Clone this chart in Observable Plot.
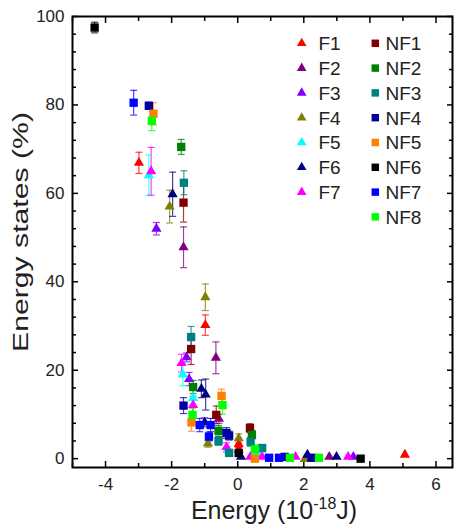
<!DOCTYPE html>
<html>
<head>
<meta charset="utf-8">
<script src="https://cdn.jsdelivr.net/npm/d3@7"></script>
<script src="https://cdn.jsdelivr.net/npm/@observablehq/plot@0.6"></script>
<style>
  html, body { margin: 0; padding: 0; background: #fff; }
  #chart svg { display: block; }
</style>
</head>
<body>
<div id="chart"></div>
<script>
// ---- data: [energy (1e-18 J), energy states (%), error (%)] ----
const F1 = [[-2.99, 66.9, 2.4], [-0.98, 30.2, 2.3], [0.03, 3.3, 0.8], [0.03, 2.0, 0.5], [5.06, 0.9, 0]];
const F2 = [[-1.64, 47.8, 4.6], [-0.66, 22.8, 3.6], [-0.57, 9.0, 1.0], [2.77, 0.4, 0]];
const F3 = [[-2.46, 52.0, 1.4], [-1.55, 22.9, 1.0], [-1.47, 18.0, 1.5], [3.5, 0.4, 0]];
const F4 = [[-2.06, 57.0, 3.7], [-0.98, 36.5, 3.0], [-0.9, 3.4, 0.8], [0.03, 4.6, 1.0], [2.03, -0.1, 0]];
const F5 = [[-2.69, 64.1, 4.6], [-1.66, 19.0, 2.5], [-1.35, 13.7, 2.0], [-0.3, 2.0, 0.8], [0.55, 0.8, 0], [0.62, 1.1, 0.5]];
const F6 = [[-1.97, 59.8, 5.0], [-1.1, 15.8, 2.0], [-0.97, 14.5, 3.5], [-1.0, 8.2, 1.0], [0.1, 0.4, 0], [2.11, 0.9, 0], [2.99, 0.4, 0]];
const F7 = [[-2.62, 65.0, 5.4], [-1.70, 21.6, 2.0], [-1.35, 12.1, 2.0], [-0.34, 2.6, 1.0], [0.38, 0.4, 0], [0.74, 0.4, 0], [1.75, 0.4, 0], [3.34, 0.4, 0]];
const NF1 = [[-1.64, 57.9, 4.4], [-1.41, 24.8, 3.5], [-0.65, 9.9, 2.0], [0.37, 6.9, 1.0]];
const NF2 = [[-1.71, 70.5, 1.7], [-1.35, 16.2, 1.5], [-0.58, 6.3, 1.2], [0.43, 5.4, 1.0]];
const NF3 = [[-1.63, 62.4, 2.7], [-1.41, 27.5, 2.4], [-0.58, 4.0, 1.0], [-0.26, 1.3, 0.5], [0.39, 3.8, 1.0], [0.74, 2.4, 0.8]];
const NF4 = [[-2.69, 79.8, 0.8], [-1.64, 12.0, 1.8], [-0.34, 5.8, 1.2], [-0.26, 5.2, 1.0], [1.42, 0.4, 0], [2.23, 0.2, 0]];
const NF5 = [[-2.55, 78.0, 2.5], [-1.40, 8.2, 2.0], [-0.49, 14.2, 1.5], [0.52, 0.0, 0]];
const NF6 = [[-4.33, 97.5, 1.2], [0.03, 1.3, 0.5], [3.72, 0.0, 0]];
const NF7 = [[-3.15, 80.5, 2.8], [-1.15, 7.6, 1.5], [-0.82, 7.6, 1.5], [-0.87, 5.0, 1.0], [0.95, 0.2, 0], [1.25, 0.2, 0]];
const NF8 = [[-2.6, 76.4, 2.2], [-1.37, 9.9, 1.5], [-0.46, 12.1, 2.0], [0.52, 2.1, 1.0], [1.58, 0.2, 0], [2.46, 0.2, 0]];

const seriesNames  = ["F1", "F2", "F3", "F4", "F5", "F6", "F7", "NF1", "NF2", "NF3", "NF4", "NF5", "NF6", "NF7", "NF8"];
const seriesColors = ["#ff0000", "#800080", "#8000ff", "#808000", "#00ffff", "#000080", "#ff00ff",
                      "#800000", "#008000", "#008080", "#0000a0", "#ff8000", "#000000", "#0000ff", "#00ff00"];
const seriesData   = [F1, F2, F3, F4, F5, F6, F7, NF1, NF2, NF3, NF4, NF5, NF6, NF7, NF8];

const xTicksMajor = [-4, -2, 0, 2, 4, 6];
const xTicksMinor = [-5, -3, -1, 1, 3, 5];
const yTicksMajor = [0, 20, 40, 60, 80, 100];
const yTicksMinor = [4, 8, 12, 16, 24, 28, 32, 36, 44, 48, 52, 56, 64, 68, 72, 76, 84, 88, 92, 96];

const xTitle = ["Energy (10", "-18", "J)"];
const yTitle = "Energy states (%)";

// ---- build rows ----
const rows = seriesData.flatMap((arr, i) => arr.map(([x, y, e]) => ({x, y, e, s: seriesNames[i]})));
const triRows = rows.filter(d => d.s.startsWith("F"));
const sqRows = rows.filter(d => d.s.startsWith("NF"));
const errRows = rows.filter(d => d.e > 0);

const font = "'Liberation Sans', Arial, Helvetica, sans-serif";
const capSymbol = {draw(ctx, size) { const w = Math.sqrt(size) / 2; ctx.moveTo(-w, 0); ctx.lineTo(w, 0); }};
const fmt = d => String(d);

const W = 455, H = 526, mL = 72, mR = 3, mT = 16, mB = 59;

const chart = Plot.plot({
  width: W, height: H,
  marginLeft: mL, marginRight: mR, marginTop: mT, marginBottom: mB,
  style: {fontFamily: font, background: "#fff", color: "#000"},
  x: {domain: [-5, 6.5], label: null},
  y: {domain: [-2, 100], label: null},
  color: {domain: seriesNames, range: seriesColors},
  marks: [
    // tick labels
    Plot.axisX(xTicksMajor, {anchor: "bottom", tickSize: 0, tickPadding: 10, tickFormat: fmt, fontSize: 17, fill: "#222", label: null}),
    Plot.axisY(yTicksMajor, {anchor: "left", tickSize: 0, tickPadding: 8, tickFormat: fmt, fontSize: 17, fill: "#222", label: null}),
    // inward ticks on all four sides
    Plot.axisX(xTicksMajor, {anchor: "bottom", tickSize: 6, dy: -6, fill: "none", stroke: "#000", strokeWidth: 1.5, label: null}),
    Plot.axisX(xTicksMinor, {anchor: "bottom", tickSize: 4, dy: -4, fill: "none", stroke: "#000", strokeWidth: 1.5, label: null}),
    Plot.axisX(xTicksMajor, {anchor: "top", tickSize: 6, dy: 6, fill: "none", stroke: "#000", strokeWidth: 1.5, label: null}),
    Plot.axisX(xTicksMinor, {anchor: "top", tickSize: 4, dy: 4, fill: "none", stroke: "#000", strokeWidth: 1.5, label: null}),
    Plot.axisY(yTicksMajor, {anchor: "left", tickSize: 6, dx: 6, fill: "none", stroke: "#000", strokeWidth: 1.5, label: null}),
    Plot.axisY(yTicksMinor, {anchor: "left", tickSize: 4, dx: 4, fill: "none", stroke: "#000", strokeWidth: 1.5, label: null}),
    Plot.axisY(yTicksMajor, {anchor: "right", tickSize: 6, dx: -6, fill: "none", stroke: "#000", strokeWidth: 1.5, label: null}),
    Plot.axisY(yTicksMinor, {anchor: "right", tickSize: 4, dx: -4, fill: "none", stroke: "#000", strokeWidth: 1.5, label: null}),
    // error bars
    Plot.ruleX(errRows, {x: "x", y1: d => d.y - d.e, y2: d => d.y + d.e, stroke: "s", strokeWidth: 1.2, strokeOpacity: 0.75}),
    Plot.dot(errRows, {x: "x", y: d => d.y + d.e, stroke: "s", fill: "none", symbol: capSymbol, r: 3.95, strokeWidth: 1.2, strokeOpacity: 0.75}),
    Plot.dot(errRows, {x: "x", y: d => d.y - d.e, stroke: "s", fill: "none", symbol: capSymbol, r: 3.95, strokeWidth: 1.2, strokeOpacity: 0.75}),
    // markers
    Plot.dot(triRows, {x: "x", y: "y", fill: "s", symbol: "triangle", r: 3.8, stroke: "none"}),
    Plot.dot(sqRows, {x: "x", y: "y", fill: "s", symbol: "square", r: 4.7, stroke: "none"}),
    Plot.frame({stroke: "#000", strokeWidth: 2})
  ]
});

document.getElementById("chart").appendChild(chart);

// ---- titles and legend ----
const svg = d3.select(chart);

const xt = svg.append("text")
  .attr("x", 274).attr("y", 519)
  .attr("text-anchor", "middle")
  .attr("font-family", font).attr("font-size", 25).attr("fill", "#222");
xt.append("tspan").text(xTitle[0]);
xt.append("tspan").attr("font-size", 16).attr("dy", -10).text(xTitle[1]);
xt.append("tspan").attr("dy", 10).text(xTitle[2]);

svg.append("text")
  .attr("transform", "translate(28,232) rotate(-90)")
  .attr("text-anchor", "middle")
  .attr("font-family", font).attr("font-size", 22).attr("fill", "#222")
  .attr("textLength", 240).attr("lengthAdjust", "spacingAndGlyphs")
  .text(yTitle);

const legend = svg.append("g").attr("font-family", font).attr("font-size", 19).attr("fill", "#222");
const rowStep = 24.8, rowTop = 43.3;
seriesNames.forEach((name, i) => {
  const isF = name.startsWith("F");
  const k = isF ? i : i - 7;
  const cy = rowTop + k * rowStep;
  const mx = isF ? 301.7 : 375.3;
  const tx = isF ? 329.5 : 403.5;
  legend.append("path")
    .attr("transform", `translate(${mx},${cy})`)
    .attr("d", d3.symbol(isF ? d3.symbolTriangle : d3.symbolSquare, isF ? 40 : 56)())
    .attr("fill", seriesColors[i]);
  legend.append("text")
    .attr("x", tx).attr("y", cy + 6.8)
    .text(name);
});
</script>
</body>
</html>
